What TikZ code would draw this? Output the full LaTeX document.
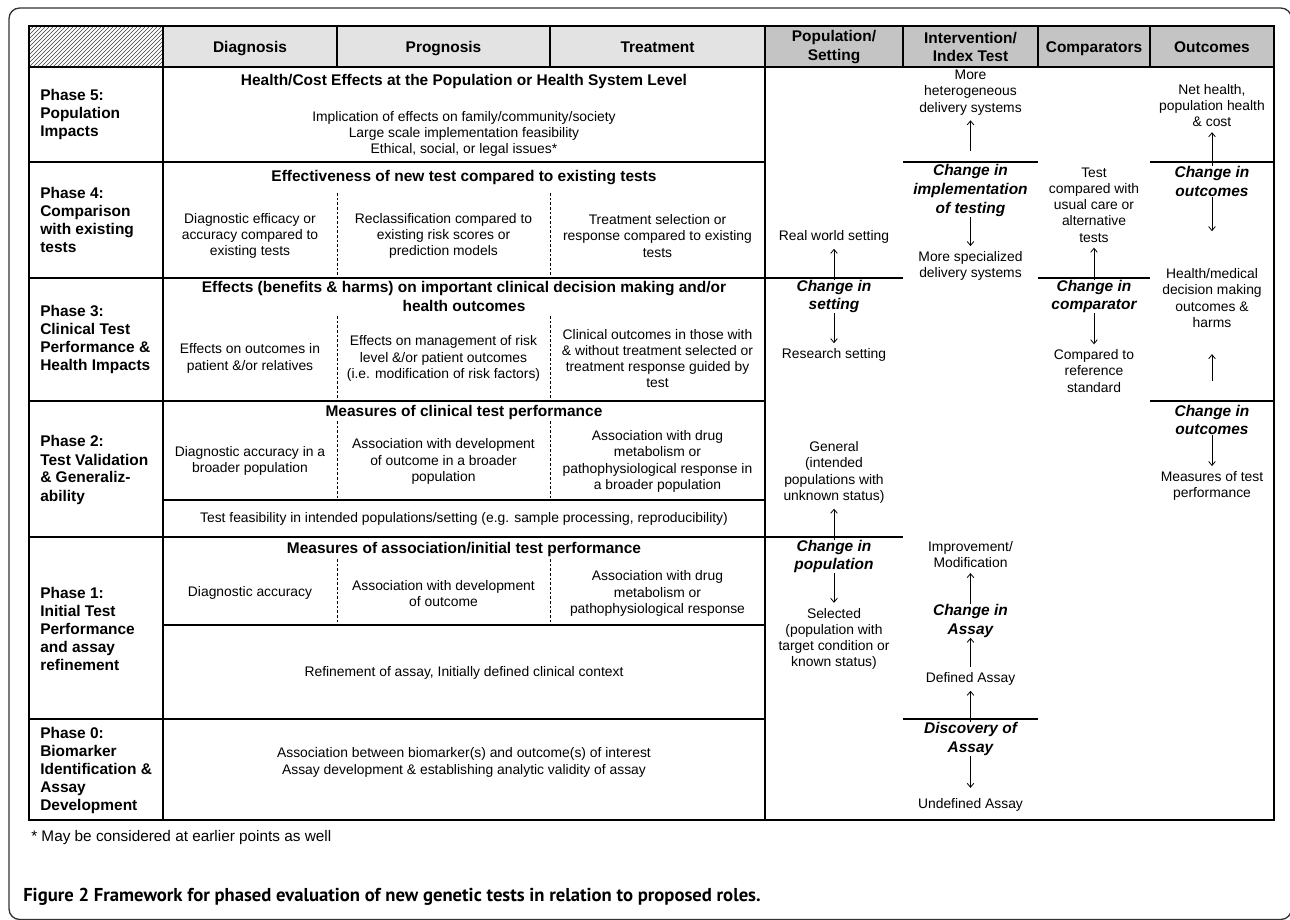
\documentclass[tikz,border=0pt]{standalone}
\usepackage{fontspec}
\setmainfont{Liberation Sans}
\newfontfamily\captionfont{PT Sans}
\usetikzlibrary{arrows.meta,patterns}

\begin{document}
\begin{tikzpicture}[x=0.75pt,y=-0.75pt,
        rule/.style={line width=0.9pt},
        divider/.style={line width=0.4pt,dash pattern=on 2pt off 1.5pt},
        body/.style={align=center,inner sep=0pt,outer sep=4pt,font=\fontsize{10.4}{12.2}\selectfont},
        heading/.style={align=center,inner sep=0pt,font=\bfseries\fontsize{11.6}{14}\selectfont},
        phase/.style={align=left,anchor=west,inner sep=0pt,font=\bfseries\fontsize{11.6}{13.5}\selectfont},
        change/.style={align=center,inner sep=0pt,font=\bfseries\itshape\fontsize{11.6}{14}\selectfont},
        trend/.style={-{Straight Barb[length=3pt,width=5pt]},line width=0.6pt}]
    \useasboundingbox (0,0) rectangle (1290,920);
    \clip (0,0) rectangle (1290,920);
    \draw[line width=1pt,black!80,rounded corners=8pt] (9,8) rectangle (1291.5,919.5);
    % header cells
    \fill[black!11] (163,26) rectangle (765,67);
    \fill[black!23] (765,26) rectangle (1274,67);
    \fill[pattern=north east lines,pattern color=black!75] (29,26) rectangle (163,67);
    % table rules
    \draw[rule] (29,26) rectangle (1274,820);
    \draw[rule] (29,67) -- (1274,67);
    \draw[rule] (163,26) -- (163,820);
    \draw[rule] (765,26) -- (765,820);
    \draw[rule] (337,26) -- (337,67);
    \draw[rule] (550,26) -- (550,67);
    \draw[rule] (903,26) -- (903,67);
    \draw[rule] (1038,26) -- (1038,67);
    \draw[rule] (1150,26) -- (1150,67);
    \draw[rule] (29,162) -- (765,162);
    \draw[rule] (29,278) -- (903,278);
    \draw[rule] (29,401) -- (765,401);
    \draw[rule] (29,537) -- (903,537);
    \draw[rule] (29,719) -- (765,719);
    \draw[rule] (163,500) -- (765,500);
    \draw[rule] (163,625) -- (765,625);
    \draw[rule] (903,162) -- (1038,162);
    \draw[rule] (903,719) -- (1038,719);
    \draw[rule] (1038,278) -- (1150,278);
    \draw[rule] (1150,162) -- (1274,162);
    \draw[rule] (1150,401) -- (1274,401);
    % dashed splits
    \draw[divider] (337,193) -- (337,278);
    \draw[divider] (550,193) -- (550,278);
    \draw[divider] (337,316) -- (337,401);
    \draw[divider] (550,316) -- (550,401);
    \draw[divider] (337,421) -- (337,500);
    \draw[divider] (550,421) -- (550,500);
    \draw[divider] (337,559) -- (337,625);
    \draw[divider] (550,559) -- (550,625);
    % column heads
    \node[heading,anchor=base] (diag) at (250,52.5) {Diagnosis};
    \node[heading,anchor=base] (prog) at (443.5,52.5) {Prognosis};
    \node[heading,anchor=base] (treat) at (657.5,52.5) {Treatment};
    \node[heading] (popul) at (834,47) {Population/\\Setting};
    \node[heading] (interv) at (970.5,47) {Intervention/\\Index Test};
    \node[heading,anchor=base] (compar) at (1094,52.5) {Comparators};
    \node[heading,anchor=base] (outc) at (1212,52.5) {Outcomes};
    % phases
    \node[phase] (ph5) at (40,115) {Phase 5:\\Population\\Impacts};
    \node[phase] (ph4) at (40,220) {Phase 4:\\Comparison\\with existing\\tests};
    \node[phase] (ph3) at (40,340) {Phase 3:\\Clinical Test\\Performance \&\\Health Impacts};
    \node[phase] (ph2) at (40,470) {Phase 2:\\Test Validation\\\& Generaliz-\\ability};
    \node[phase] (ph1) at (40,629) {Phase 1:\\Initial Test\\Performance\\and assay\\refinement};
    \node[phase] (ph0) at (40,770) {Phase 0:\\Biomarker\\Identification \&\\Assay\\Development};
    % phase 5
    \node[heading] (p5head) at (464,82) {Health/Cost Effects at the Population or Health System Level};
    \node[body] (p5text) at (464,134) {Implication of effects on family/community/society\\Large scale implementation feasibility\\Ethical, social, or legal issues*};
    % phase 4
    \node[heading] (p4head) at (464,178) {Effectiveness of new test compared to existing tests};
    \node[body] (p4diag) at (250,236) {Diagnostic efficacy or\\accuracy compared to\\existing tests};
    \node[body] (p4prog) at (443.5,236) {Reclassification compared to\\existing risk scores or\\prediction models};
    \node[body] (p4treat) at (657.5,236) {Treatment selection or\\response compared to existing\\tests};
    % phase 3
    \node[heading] (p3head) at (464,296.5) {Effects (benefits \& harms) on important clinical decision making and/or\\health outcomes};
    \node[body] (p3diag) at (250,358.5) {Effects on outcomes in\\patient \&/or relatives};
    \node[body] (p3prog) at (443.5,358.5) {Effects on management of risk\\level \&/or patient outcomes\\(i.e. modification of risk factors)};
    \node[body] (p3treat) at (657.5,358.5) {Clinical outcomes in those with\\\& without treatment selected or\\treatment response guided by\\test};
    % phase 2
    \node[heading] (p2head) at (464,412) {Measures of clinical test performance};
    \node[body] (p2diag) at (250,461) {Diagnostic accuracy in a\\broader population};
    \node[body] (p2prog) at (443.5,461.5) {Association with development\\of outcome in a broader\\population};
    \node[body] (p2treat) at (657.5,461.5) {Association with drug\\metabolism or\\pathophysiological response in\\a broader population};
    \node[body] (p2feas) at (464,519) {Test feasibility in intended populations/setting (e.g. sample processing, reproducibility)};
    % phase 1
    \node[heading] (p1head) at (464,549) {Measures of association/initial test performance};
    \node[body] (p1diag) at (250,593) {Diagnostic accuracy};
    \node[body] (p1prog) at (443.5,593.5) {Association with development\\of outcome};
    \node[body] (p1treat) at (657.5,593.5) {Association with drug\\metabolism or\\pathophysiological response};
    \node[body] (p1refine) at (464,673) {Refinement of assay, Initially defined clinical context};
    % phase 0
    \node[body] (p0text) at (464,762.5) {Association between biomarker(s) and outcome(s) of interest\\Assay development \& establishing analytic validity of assay};
    % population / setting
    \node[body] (realworld) at (834,237) {Real world setting};
    \node[change] (chgset) at (834,296.5) {Change in\\setting};
    \node[body] (research) at (834,355) {Research setting};
    \node[body] (general) at (834,472.5) {General\\(intended\\populations with\\unknown status)};
    \node[change] (chgpop) at (834,556.5) {Change in\\population};
    \node[body] (selected) at (834,639) {Selected\\(population with\\target condition or\\known status)};
    \draw[trend] (chgset) -- (realworld);
    \draw[trend] (chgset) -- (research);
    \draw[trend] (chgpop) -- (general);
    \draw[trend] (chgpop) -- (selected);
    % intervention / index test
    \node[body] (hetero) at (970.5,92.5) {More\\heterogeneous\\delivery systems};
    \node[change] (chgimpl) at (970.5,190.5) {Change in\\implementation\\of testing};
    \node[body] (special) at (970.5,266) {More specialized\\delivery systems};
    \node[body] (improve) at (970.5,554.5) {Improvement/\\Modification};
    \node[change] (chgassay) at (970.5,621) {Change in\\Assay};
    \node[body] (defined) at (970.5,679) {Defined Assay};
    \node[change] (discover) at (970.5,739) {Discovery of\\Assay};
    \node[body] (undefined) at (970.5,805) {Undefined Assay};
    \draw[trend,shorten <=10pt] (chgimpl) -- (hetero);
    \draw[trend] (chgimpl) -- (special);
    \draw[trend] (chgassay) -- (improve);
    \draw[trend] (defined) -- (chgassay);
    \draw[trend] (discover) -- (defined);
    \draw[trend,shorten >=4pt] (discover) -- (undefined);
    % comparators
    \node[body] (usual) at (1094,205) {Test\\compared with\\usual care or\\alternative\\tests};
    \node[change] (chgcomp) at (1094,296.5) {Change in\\comparator};
    \node[body] (refstd) at (1094,371) {Compared to\\reference\\standard};
    \draw[trend] (chgcomp) -- (usual);
    \draw[trend] (chgcomp) -- (refstd);
    % outcomes
    \node[body] (nethealth) at (1212,105.5) {Net health,\\population health\\\& cost};
    \node[change] (chgout) at (1212,181.5) {Change in\\outcomes};
    \node[body] (decision) at (1212,298) {Health/medical\\decision making\\outcomes \&\\harms};
    \node[change] (chgmeas) at (1212,420) {Change in\\outcomes};
    \node[body] (measures) at (1212,486) {Measures of test\\performance};
    \draw[trend] (chgout) -- (nethealth);
    \draw[trend,shorten >=24pt] (chgout) -- (decision);
    \draw[trend,shorten <=18pt,shorten >=16pt] (chgmeas) -- (decision);
    \draw[trend] (chgmeas) -- (measures);
    % notes
    \node[anchor=west,inner sep=0pt,font=\fontsize{11.5}{14}\selectfont] (footnote) at (31,838) {* May be considered at earlier points as well};
    \node[anchor=west,inner sep=0pt,font=\captionfont\bfseries\fontsize{14}{17}\selectfont] (caption) at (23,897) {Figure 2 Framework for phased evaluation of new genetic tests in relation to proposed roles.};
\end{tikzpicture}
\end{document}
